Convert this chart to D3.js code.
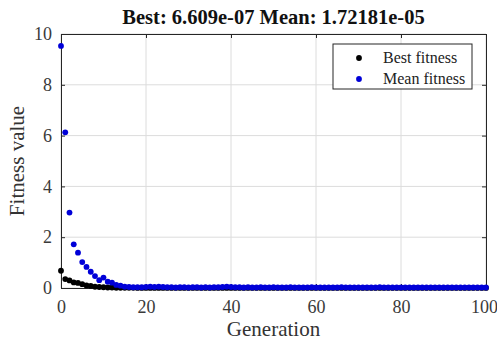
<!DOCTYPE html>
<html>
<head>
<meta charset="utf-8">
<script src="https://cdn.jsdelivr.net/npm/d3@7"></script>
<style>
  body { margin: 0; background: #fff; }
  svg { display: block; font-family: "Liberation Serif", "Times New Roman", serif; }
</style>
</head>
<body>
<div id="chart"></div>
<script>
// series, one value per generation 0..100
const bestFitness = [
  0.68, 0.35, 0.30, 0.22, 0.20, 0.15, 0.10, 0.08, 0.05, 0.04,
  0.03, 0.02, 0.02, 0.01, 0.01, 0.01, 0.005, 0.005, 0.004, 0.004,
  0.003, 0.003, 0.003, 0.002, 0.002, 0.002, 0.002, 0.002, 0.001, 0.001,
  0.001, 0.001, 0.001, 0.001, 0.001, 0.001, 0.001, 0.001, 0.001, 0.001,
  0.001, 0.001, 0.001, 0.001, 0.001, 0.001, 0.001, 0.001, 0.001, 0.001,
  0.001, 0.001, 0.001, 0.001, 0.001, 0.001, 0.001, 0.001, 0.001, 0.001,
  0.001, 0.001, 0.001, 0.001, 0.001, 0.001, 0.001, 0.001, 0.001, 0.001,
  0.001, 0.001, 0.001, 0.001, 0.001, 0.001, 0.001, 0.001, 0.001, 0.001,
  0.001, 0.001, 0.001, 0.001, 0.001, 0.001, 0.001, 0.001, 0.001, 0.001,
  0.001, 0.001, 0.001, 0.001, 0.001, 0.001, 0.001, 0.001, 0.001, 0.001,
  0.001
];
const meanFitness = [
  9.53, 6.13, 2.97, 1.72, 1.39, 1.02, 0.83, 0.64, 0.47, 0.31,
  0.41, 0.25, 0.21, 0.12, 0.09, 0.05, 0.04, 0.03, 0.03, 0.03,
  0.04, 0.05, 0.04, 0.05, 0.04, 0.03, 0.03, 0.02, 0.03, 0.03,
  0.02, 0.03, 0.03, 0.02, 0.03, 0.02, 0.03, 0.03, 0.04, 0.05,
  0.04, 0.03, 0.03, 0.02, 0.03, 0.02, 0.02, 0.03, 0.02, 0.02,
  0.03, 0.02, 0.02, 0.02, 0.03, 0.02, 0.02, 0.02, 0.02, 0.03,
  0.02, 0.02, 0.02, 0.02, 0.02, 0.02, 0.03, 0.02, 0.02, 0.02,
  0.02, 0.02, 0.02, 0.02, 0.02, 0.03, 0.02, 0.02, 0.02, 0.02,
  0.02, 0.02, 0.02, 0.02, 0.02, 0.02, 0.02, 0.02, 0.02, 0.02,
  0.02, 0.02, 0.02, 0.02, 0.02, 0.02, 0.02, 0.02, 0.02, 0.02,
  0.02
];
const xTicks = [0, 20, 40, 60, 80, 100];
const yTicks = [0, 2, 4, 6, 8, 10];
const seriesNames = ["Best fitness", "Mean fitness"];
const seriesColors = ["#000000", "#0000d8"];
const titleText = "Best: 6.609e-07 Mean: 1.72181e-05";

const width = 497, height = 345;
const margin = {top: 34, right: 11, bottom: 57, left: 61};
const plotW = width - margin.left - margin.right;
const plotH = height - margin.top - margin.bottom;

const svg = d3.select("#chart").append("svg")
  .attr("width", width)
  .attr("height", height);

const x = d3.scaleLinear().domain([0, 100]).range([0, plotW]);
const y = d3.scaleLinear().domain([0, 10]).range([plotH, 0]);

const g = svg.append("g").attr("transform", `translate(${margin.left},${margin.top})`);

// grid
g.append("g").selectAll("line").data(xTicks).enter().append("line")
  .attr("x1", d => x(d)).attr("x2", d => x(d))
  .attr("y1", 0).attr("y2", plotH)
  .attr("stroke", "#dcdcdc").attr("stroke-width", 1);
g.append("g").selectAll("line").data(yTicks).enter().append("line")
  .attr("y1", d => y(d)).attr("y2", d => y(d))
  .attr("x1", 0).attr("x2", plotW)
  .attr("stroke", "#dcdcdc").attr("stroke-width", 1);

// axes (ticks point inward, matlab style)
const axisColor = "#262626";
const xAxis = g.append("g").attr("transform", `translate(0,${plotH})`)
  .call(d3.axisBottom(x).tickValues(xTicks).tickSizeInner(-4).tickSizeOuter(0).tickPadding(12));
const yAxis = g.append("g")
  .call(d3.axisLeft(y).tickValues(yTicks).tickSizeInner(-4).tickSizeOuter(0).tickPadding(9));
const xTop = g.append("g")
  .call(d3.axisTop(x).tickValues(xTicks).tickSizeInner(-4).tickSizeOuter(0).tickFormat(""));
const yRight = g.append("g").attr("transform", `translate(${plotW},0)`)
  .call(d3.axisRight(y).tickValues(yTicks).tickSizeInner(-4).tickSizeOuter(0).tickFormat(""));

[xAxis, yAxis, xTop, yRight].forEach(a => {
  a.select(".domain").attr("stroke", axisColor);
  a.selectAll(".tick line").attr("stroke", axisColor);
  a.selectAll("text")
    .attr("fill", "#3a3a3a")
    .style("font-family", "Liberation Serif, serif")
    .style("font-size", "18px");
});
// last x label sits right on the page edge, nudge it in a little
xAxis.selectAll(".tick text").filter(d => d === 100).attr("dx", -2);

// series dots, best first so mean sits on top
const series = [bestFitness, meanFitness];
series.forEach((vals, s) => {
  g.append("g").selectAll("circle").data(vals).enter().append("circle")
    .attr("cx", (d, i) => x(i))
    .attr("cy", d => y(d))
    .attr("r", 2.9)
    .attr("fill", seriesColors[s]);
});

// title
svg.append("text")
  .attr("x", margin.left + plotW / 2)
  .attr("y", 24)
  .attr("text-anchor", "middle")
  .attr("font-weight", "bold")
  .attr("font-size", "20.5px")
  .attr("fill", "#111")
  .text(titleText);

// axis labels
svg.append("text")
  .attr("x", margin.left + plotW / 2)
  .attr("y", 336)
  .attr("text-anchor", "middle")
  .attr("font-size", "21px")
  .attr("fill", "#333")
  .text("Generation");
svg.append("text")
  .attr("transform", `translate(24,${margin.top + plotH / 2}) rotate(-90)`)
  .attr("text-anchor", "middle")
  .attr("font-size", "21px")
  .attr("fill", "#333")
  .text("Fitness value");

// legend
const legend = svg.append("g").attr("transform", "translate(333,44)");
legend.append("rect")
  .attr("width", 139).attr("height", 45)
  .attr("fill", "#fff").attr("stroke", axisColor).attr("stroke-width", 1);
seriesNames.forEach((name, i) => {
  const row = legend.append("g").attr("transform", `translate(0,${14 + i * 21})`);
  row.append("circle").attr("cx", 26).attr("cy", 0).attr("r", 2.9).attr("fill", seriesColors[i]);
  row.append("text").attr("x", 50).attr("y", 5)
    .attr("font-size", "16px").attr("fill", "#222")
    .text(name);
});
</script>
</body>
</html>
